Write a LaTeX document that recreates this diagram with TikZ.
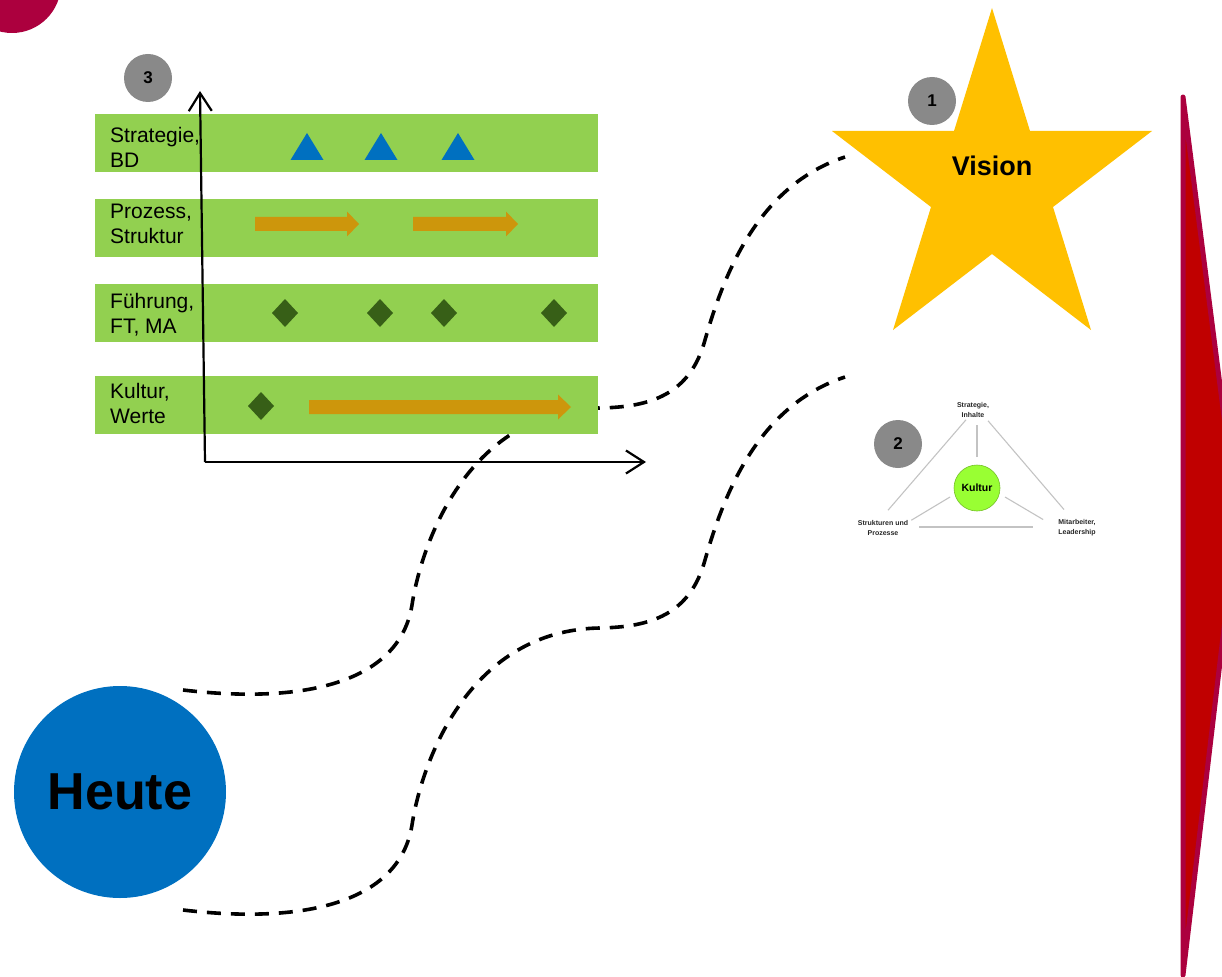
\documentclass[tikz,border=0pt]{standalone}
\usepackage{fontspec}
\setmainfont{Liberation Sans}
\usetikzlibrary{arrows.meta,calc}
\definecolor{rowgreen}{RGB}{146,208,80}
\definecolor{bluec}{RGB}{0,112,192}
\definecolor{orangec}{RGB}{205,150,12}
\definecolor{dgreen}{RGB}{55,95,23}
\definecolor{badgegray}{RGB}{137,137,137}
\definecolor{starc}{RGB}{255,192,0}
\definecolor{crimsonc}{RGB}{172,0,62}
\definecolor{redc}{RGB}{192,0,0}
\definecolor{kulturgreen}{RGB}{153,255,51}
\definecolor{linegray}{RGB}{195,195,195}
\begin{document}
\begin{tikzpicture}[x=1pt,y=-1pt,
  rowbox/.style={fill=rowgreen, draw=none, minimum width=503pt, minimum height=58pt, inner sep=0pt},
  rowlabel/.style={anchor=north west, inner sep=0pt, align=left, font=\fontsize{21}{25}\selectfont},
  badge/.style={circle, fill=badgegray, minimum size=48pt, inner sep=0pt, font=\fontsize{17}{17}\selectfont\bfseries},
  dashline/.style={line width=3.6pt, dash pattern=on 14pt off 10pt},
  axisline/.style={line width=2.2pt, -{Straight Barb[length=18pt,width=23pt,line width=2.2pt]}},
  smalllabel/.style={inner sep=0pt, align=center, font=\fontsize{7}{10}\selectfont\bfseries, text=black!85},
  spoke/.style={draw=linegray, line width=1.1pt}
]
\useasboundingbox (0,0) rectangle (1222,976);
\clip (0,0) rectangle (1222,976);

% decorative shapes at the edges
\fill[crimsonc] (12,-16) circle (49pt);
\filldraw[fill=redc, draw=crimsonc, line width=5pt, line join=round] (1183,97) -- (1237,518) -- (1183,975) -- cycle;

% main nodes
\node[circle, fill=bluec, minimum size=212pt, inner sep=0pt, font=\fontsize{52}{52}\selectfont\bfseries] (heute) at (120,792) {Heute};
\fill[starc] (992,8) -- (1030,131) -- (1152,131) -- (1053,207) -- (1091,330) -- (992,254) -- (893,330) -- (931,207) -- (832,131) -- (954,131) -- cycle;
\node[inner sep=0pt, font=\fontsize{27}{27}\selectfont\bfseries] (vision) at (992,166) {Vision};

% small triangle diagram
\node[circle, fill=kulturgreen, draw=kulturgreen!75!black, line width=0.6pt, minimum size=46pt, inner sep=0pt, font=\fontsize{10.5}{10.5}\selectfont\bfseries] (kultur2) at (977,488) {Kultur};
\node[smalllabel] (strat) at (973,410) {Strategie,\\Inhalte};
\node[smalllabel] (struk) at (883,528) {Strukturen und\\Prozesse};
\node[smalllabel] (mitarb) at (1077,528) {Mitarbeiter,\\Leadership};
\draw[spoke] ($(strat.south)+(-7,2)$) -- ($(struk.north)+(5,-10)$);
\draw[spoke] ($(strat.south)+(15,3)$) -- ($(mitarb.north)+(-13,-10)$);
\draw[spoke] ($(struk.east)+(11,-1)$) -- ($(mitarb.west)+(-25,-1)$);
\draw[spoke] ($(kultur2.center)+(0,-31)$) -- ($(strat.south)+(4,7)$);
\draw[spoke] ($(kultur2.center)+(-27,9)$) -- ($(struk.north east)+(3,0)$);
\draw[spoke] ($(kultur2.center)+(28,9)$) -- ($(mitarb.north west)+(-15,0)$);

% path end points
\coordinate (h1) at ($(heute.center)+(63,-102)$);
\coordinate (h2) at ($(heute.center)+(63,118)$);
\coordinate (v1) at ($(vision.center)+(-147,-9)$);
\coordinate (k1) at ($(kultur2.center)+(-132,-111)$);

% dashed connectors
\draw[dashline] (h1) .. controls (310,705) and (400,680) .. (412,605)
  .. controls (422,540) and (470,410) .. (600,408)
  .. controls (650,407) and (690,395) .. (705,340)
  .. controls (725,270) and (760,185) .. (v1);
\draw[dashline] (h2) .. controls (310,925) and (400,900) .. (412,825)
  .. controls (422,760) and (470,630) .. (600,628)
  .. controls (650,627) and (690,615) .. (705,560)
  .. controls (725,490) and (760,405) .. (k1);

% rows
\node[rowbox] (r1) at (346.5,143) {};
\node[rowbox] (r2) at (346.5,228) {};
\node[rowbox] (r3) at (346.5,312.5) {};
\node[rowbox] (r4) at (346.5,405) {};
\node[rowlabel] (l1) at (110,127) {Strategie,\\BD};
\node[rowlabel] (l2) at (110,204) {Prozess,\\Struktur};
\node[rowlabel] (l3) at (110,293) {Führung,\\FT, MA};
\node[rowlabel] (l4) at (110,383) {Kultur,\\Werte};

% row contents
\foreach \x in {307,381,458}
  \fill[bluec] (\x-16.5,160) -- (\x,133) -- (\x+16.5,160) -- cycle;
\foreach \a/\b/\c/\y in {255/347/359/224, 413/506/518/224, 309/558/571/407}
  \fill[orangec] (\a,\y-7) -- (\b,\y-7) -- (\b,\y-12.5) -- (\c,\y) -- (\b,\y+12.5) -- (\b,\y+7) -- (\a,\y+7) -- cycle;
\foreach \x/\y in {285/313, 380/313, 444/313, 554/313, 261/406}
  \fill[dgreen] (\x-13,\y) -- (\x,\y-14) -- (\x+13,\y) -- (\x,\y+14) -- cycle;

% axes
\coordinate (o) at (205,462);
\coordinate (ytop) at (200,91);
\coordinate (xend) at (646,462);
\draw[axisline] (o) -- (ytop);
\draw[axisline] (o) -- (xend);

% badges
\node[badge] (b3) at (148,78) {3};
\node[badge] (b1) at (932,101) {1};
\node[badge] (b2) at (898,444) {2};
\end{tikzpicture}
\end{document}
